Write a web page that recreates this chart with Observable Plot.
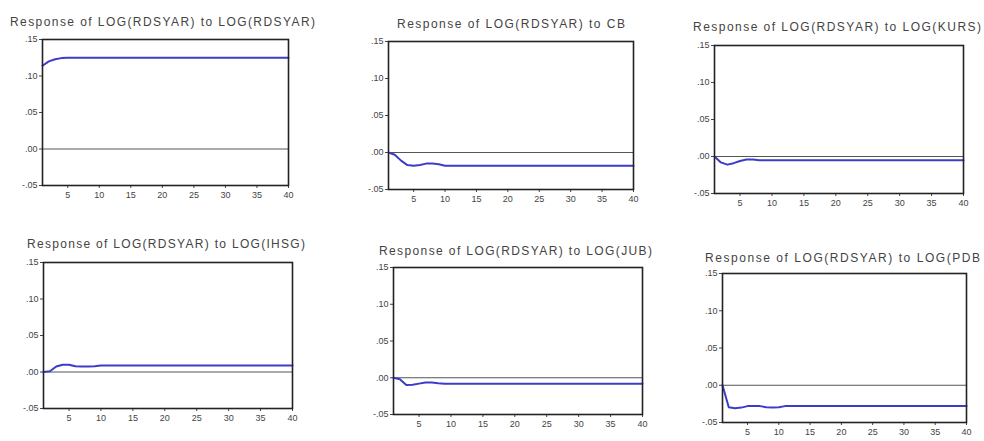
<!DOCTYPE html>
<html>
<head>
<meta charset="utf-8">
<script src="https://cdn.jsdelivr.net/npm/d3@7"></script>
<script src="https://cdn.jsdelivr.net/npm/@observablehq/plot@0.6"></script>
<style>
  html, body { margin: 0; padding: 0; background: #fff; }
  #wrap { position: relative; width: 984px; height: 441px; overflow: hidden; background: #fff; }
  #wrap svg.plot { position: absolute; }
  #titles { position: absolute; left: 0; top: 0; }
</style>
</head>
<body>
<div id="wrap"></div>
<script>
// ---- data ----
const periods = [1,2,3,4,5,6,7,8,9,10,11,12,13,14,15,16,17,18,19,20,21,22,23,24,25,26,27,28,29,30,31,32,33,34,35,36,37,38,39,40];
const xTicks = [5,10,15,20,25,30,35,40];
const yTicks = [-0.05, 0, 0.05, 0.10, 0.15];
const yTickLabels = ["-.05", ".00", ".05", ".10", ".15"];

const respRDSYAR = [0.114,0.120,0.123,0.1245,0.125,0.125,0.125,0.125,0.125,0.125,0.125,0.125,0.125,0.125,0.125,0.125,0.125,0.125,0.125,0.125,0.125,0.125,0.125,0.125,0.125,0.125,0.125,0.125,0.125,0.125,0.125,0.125,0.125,0.125,0.125,0.125,0.125,0.125,0.125,0.125];
const respCB = [0.000,-0.003,-0.011,-0.017,-0.018,-0.017,-0.015,-0.015,-0.016,-0.018,-0.018,-0.018,-0.018,-0.018,-0.018,-0.018,-0.018,-0.018,-0.018,-0.018,-0.018,-0.018,-0.018,-0.018,-0.018,-0.018,-0.018,-0.018,-0.018,-0.018,-0.018,-0.018,-0.018,-0.018,-0.018,-0.018,-0.018,-0.018,-0.018,-0.018];
const respKURS = [0.000,-0.008,-0.011,-0.009,-0.006,-0.004,-0.004,-0.005,-0.005,-0.005,-0.005,-0.005,-0.005,-0.005,-0.005,-0.005,-0.005,-0.005,-0.005,-0.005,-0.005,-0.005,-0.005,-0.005,-0.005,-0.005,-0.005,-0.005,-0.005,-0.005,-0.005,-0.005,-0.005,-0.005,-0.005,-0.005,-0.005,-0.005,-0.005,-0.005];
const respIHSG = [0.000,0.001,0.0075,0.010,0.010,0.008,0.0075,0.0075,0.008,0.009,0.009,0.009,0.009,0.009,0.009,0.009,0.009,0.009,0.009,0.009,0.009,0.009,0.009,0.009,0.009,0.009,0.009,0.009,0.009,0.009,0.009,0.009,0.009,0.009,0.009,0.009,0.009,0.009,0.009,0.009];
const respJUB = [0.000,-0.002,-0.010,-0.0095,-0.008,-0.0065,-0.0065,-0.0075,-0.008,-0.008,-0.008,-0.008,-0.008,-0.008,-0.008,-0.008,-0.008,-0.008,-0.008,-0.008,-0.008,-0.008,-0.008,-0.008,-0.008,-0.008,-0.008,-0.008,-0.008,-0.008,-0.008,-0.008,-0.008,-0.008,-0.008,-0.008,-0.008,-0.008,-0.008,-0.008];
const respPDB = [0.000,-0.0295,-0.031,-0.030,-0.028,-0.028,-0.028,-0.0295,-0.030,-0.0295,-0.028,-0.028,-0.028,-0.028,-0.028,-0.028,-0.028,-0.028,-0.028,-0.028,-0.028,-0.028,-0.028,-0.028,-0.028,-0.028,-0.028,-0.028,-0.028,-0.028,-0.028,-0.028,-0.028,-0.028,-0.028,-0.028,-0.028,-0.028,-0.028,-0.028];

const titles = [
  "Response of LOG(RDSYAR) to LOG(RDSYAR)",
  "Response of LOG(RDSYAR) to CB",
  "Response of LOG(RDSYAR) to LOG(KURS)",
  "Response of LOG(RDSYAR) to LOG(IHSG)",
  "Response of LOG(RDSYAR) to LOG(JUB)",
  "Response of LOG(RDSYAR) to LOG(PDB"
];
const series = [respRDSYAR, respCB, respKURS, respIHSG, respJUB, respPDB];

// ---- layout (frame boxes and title placement per panel) ----
const frames = [
  {L: 42,  T: 39,  R: 288, B: 185, tx0: 10,  tx1: 315, ty: 26},
  {L: 388, T: 41,  R: 633, B: 189, tx0: 397, tx1: 625, ty: 28},
  {L: 714, T: 45,  R: 963, B: 193, tx0: 693, tx1: 981, ty: 31},
  {L: 43,  T: 262, R: 292, B: 408, tx0: 27,  tx1: 305, ty: 248},
  {L: 393, T: 267, R: 642, B: 414, tx0: 379, tx1: 652, ty: 255},
  {L: 722, T: 273, R: 966, B: 422, tx0: 705, tx1: 980, ty: 262}
];

const wrap = document.getElementById("wrap");
const mL = 32, mR = 6, mT = 6, mB = 20;
const fontFam = "'Liberation Sans', Arial, sans-serif";
const labelFor = d => yTickLabels[yTicks.findIndex(t => Math.abs(t - d) < 1e-9)];

series.forEach((vals, i) => {
  const f = frames[i];
  const data = periods.map((p, j) => ({period: p, value: vals[j]}));
  const chart = Plot.plot({
    width: (f.R - f.L) + mL + mR,
    height: (f.B - f.T) + mT + mB,
    marginLeft: mL, marginRight: mR, marginTop: mT, marginBottom: mB,
    style: {fontFamily: fontFam, fontSize: "9px", color: "#444", background: "transparent"},
    x: {domain: [1, 40]},
    y: {domain: [-0.05, 0.15]},
    marks: [
      Plot.axisX({ticks: xTicks, tickSize: 3, tickPadding: 3, label: null, tickFormat: d => String(d)}),
      Plot.axisY({ticks: yTicks, tickSize: 3, tickPadding: 2, label: null, tickFormat: labelFor}),
      Plot.ruleY([0], {stroke: "#555", strokeWidth: 1}),
      Plot.line(data, {x: "period", y: "value", stroke: "#3c3cc8", strokeWidth: 2}),
      Plot.frame({stroke: "#222", strokeWidth: 1.6})
    ]
  });
  chart.classList.add("plot");
  chart.style.left = (f.L - mL) + "px";
  chart.style.top = (f.T - mT) + "px";
  wrap.appendChild(chart);
});

// titles as real text, stretched to the reference widths
const tsvg = d3.select(wrap).append("svg")
  .attr("id", "titles").attr("width", 984).attr("height", 441);
frames.forEach((f, i) => {
  tsvg.append("text")
    .attr("x", f.tx0).attr("y", f.ty)
    .attr("textLength", f.tx1 - f.tx0)
    .attr("lengthAdjust", "spacing")
    .attr("font-family", fontFam)
    .attr("font-size", 12)
    .attr("fill", "#444")
    .text(titles[i]);
});
</script>
</body>
</html>
